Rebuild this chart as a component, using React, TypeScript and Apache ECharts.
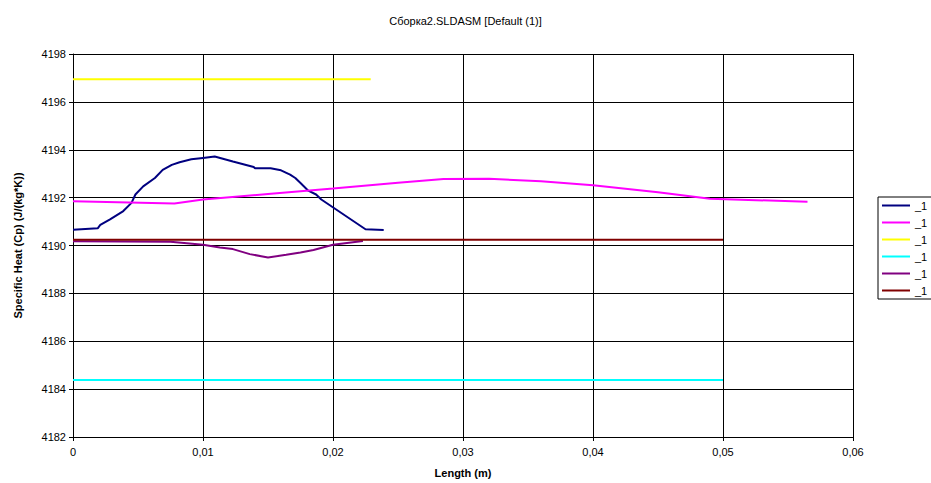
import React, { useEffect, useRef } from "react";
import * as echarts from "echarts";

const chartTitle = "Сборка2.SLDASM [Default (1)]";
const xAxisName = "Length (m)";
const yAxisName = "Specific Heat (Cp) (J/(kg*K))";
const legendLabels = ["_1", "_1", "_1", "_1", "_1", "_1"];
const seriesColors = ["#000080", "#FF00FF", "#FFFF00", "#00FFFF", "#800080", "#800000"];

const navyX = [0, 0.0019, 0.0021, 0.00285, 0.00387, 0.0045, 0.0048, 0.0054, 0.0063, 0.0069, 0.0076, 0.0082, 0.0091, 0.01, 0.0109, 0.0123, 0.0139, 0.014, 0.0152, 0.016, 0.0167, 0.0171, 0.0175, 0.0181, 0.0187, 0.0191, 0.0225, 0.0239];
const navyY = [4190.66, 4190.72, 4190.86, 4191.09, 4191.44, 4191.78, 4192.13, 4192.47, 4192.82, 4193.16, 4193.37, 4193.48, 4193.6, 4193.66, 4193.72, 4193.51, 4193.28, 4193.23, 4193.23, 4193.14, 4192.96, 4192.82, 4192.61, 4192.29, 4192.13, 4191.92, 4190.68, 4190.65];

const magentaX = [0, 0.0078, 0.01, 0.015, 0.02, 0.025, 0.0285, 0.032, 0.036, 0.04, 0.045, 0.049, 0.0565];
const magentaY = [4191.85, 4191.75, 4191.92, 4192.15, 4192.38, 4192.62, 4192.78, 4192.79, 4192.68, 4192.52, 4192.22, 4191.95, 4191.83];

const yellowX = [0, 0.0229];
const yellowY = [4196.95, 4196.95];

const cyanX = [0, 0.05];
const cyanY = [4184.38, 4184.38];

const purpleX = [0, 0.0075, 0.01, 0.0113, 0.0123, 0.0136, 0.015, 0.0164, 0.0175, 0.0185, 0.02, 0.0223];
const purpleY = [4190.18, 4190.16, 4190.03, 4189.92, 4189.85, 4189.64, 4189.5, 4189.61, 4189.71, 4189.81, 4190.03, 4190.19];

const darkRedX = [0, 0.05];
const darkRedY = [4190.24, 4190.24];

const seriesXs = [navyX, magentaX, yellowX, cyanX, purpleX, darkRedX];
const seriesYs = [navyY, magentaY, yellowY, cyanY, purpleY, darkRedY];

const FONT = 'Arial, "Liberation Sans", sans-serif';

export default function App() {
  const ref = useRef<HTMLDivElement>(null);
  useEffect(() => {
    if (!ref.current) return;
    const chart = echarts.init(ref.current, null, { renderer: "svg" });
    const names = legendLabels.map((l, i) => `${l}#${i}`);
    const series = names.map((name, i) => ({
      name,
      type: "line",
      data: seriesXs[i].map((x, j) => [x, seriesYs[i][j]]),
      showSymbol: false,
      symbol: "none",
      lineStyle: { color: seriesColors[i], width: 2 },
      itemStyle: { color: seriesColors[i] },
    }));
    chart.setOption({
      animation: false,
      backgroundColor: "#fff",
      title: {
        text: chartTitle,
        left: "center",
        top: 10,
        textStyle: { fontFamily: FONT, fontSize: 11, fontWeight: "normal", color: "#000" },
      },
      legend: {
        orient: "vertical",
        left: 878,
        top: 197,
        data: names,
        formatter: (n: string) => n.split("#")[0],
        icon: "rect",
        itemWidth: 28,
        itemHeight: 2,
        itemGap: 4,
        padding: [2, 30, 2, 4],
        borderColor: "#000",
        borderWidth: 1,
        textStyle: { fontFamily: FONT, fontSize: 11, color: "#000", lineHeight: 13 },
      },
      grid: { left: 73, right: 78, top: 54, bottom: 40 },
      xAxis: {
        type: "value",
        min: 0,
        max: 0.06,
        interval: 0.01,
        name: xAxisName,
        nameLocation: "middle",
        nameGap: 30,
        nameTextStyle: { fontFamily: FONT, fontSize: 11, fontWeight: "bold", color: "#000" },
        axisLine: { show: true, lineStyle: { color: "#000", width: 1 } },
        axisTick: { show: true, inside: false, length: 4, lineStyle: { color: "#000" } },
        axisLabel: {
          fontFamily: FONT,
          fontSize: 11,
          color: "#000",
          margin: 9,
          formatter: (v: number) => (v === 0 ? "0" : v.toFixed(2).replace(".", ",")),
        },
        splitLine: { show: true, lineStyle: { color: "#000", width: 1 } },
      },
      yAxis: {
        type: "value",
        min: 4182,
        max: 4198,
        interval: 2,
        name: yAxisName,
        nameLocation: "middle",
        nameGap: 50,
        nameTextStyle: { fontFamily: FONT, fontSize: 11, fontWeight: "bold", color: "#000" },
        axisLine: { show: true, lineStyle: { color: "#000", width: 1 } },
        axisTick: { show: true, inside: false, length: 4, lineStyle: { color: "#000" } },
        axisLabel: {
          fontFamily: FONT,
          fontSize: 11,
          color: "#000",
          margin: 7,
          formatter: (v: number) => String(v),
        },
        splitLine: { show: true, lineStyle: { color: "#000", width: 1 } },
      },
      series,
    });
    return () => chart.dispose();
  }, []);
  return (
    <div
      ref={ref}
      style={{ position: "fixed", left: 0, top: 0, width: 931, height: 483 }}
    />
  );
}
